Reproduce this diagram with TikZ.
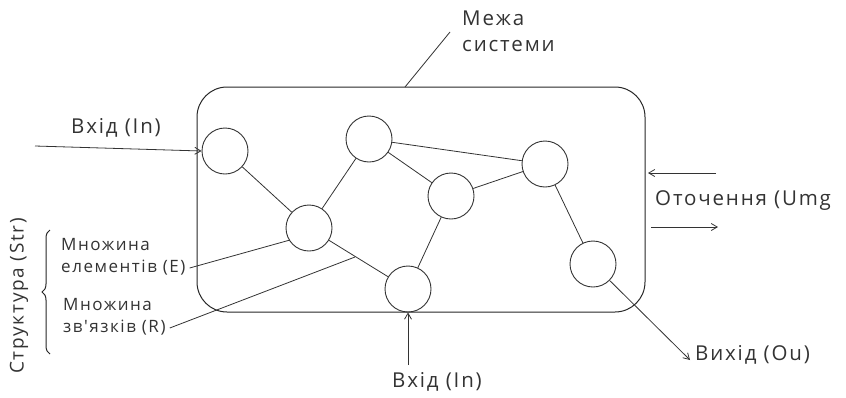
\documentclass[tikz,border=0pt]{standalone}
\usepackage{fontspec}
\setmainfont{Open Sans}
\newfontfamily\wideopen[LetterSpace=9]{Open Sans}
\usetikzlibrary{arrows.meta,decorations.pathreplacing}
\begin{document}
\begin{tikzpicture}[x=1pt,y=-1pt,
  elem/.style={draw=black!80,circle,minimum size=46pt,inner sep=0pt,line width=0.9pt},
  link/.style={draw=black!80,line width=0.8pt},
  arr/.style={draw=black!80,line width=0.8pt,-{Straight Barb[length=6pt,width=7pt]}},
  lbl/.style={font=\wideopen\fontsize{20.5}{23}\selectfont,text=black!80,inner sep=0pt},
  slbl/.style={font=\wideopen\fontsize{17}{22}\selectfont,text=black!80,inner sep=0pt,align=left}]
\useasboundingbox (0,0) rectangle (846,397);
% system boundary
\draw[line width=1pt,draw=black!85,rounded corners=30pt] (197,87) rectangle (645,312);
\coordinate (btop) at (405,87);
\coordinate (bmark) at (450,32);
\draw[link] (btop) -- (bmark);
\node[lbl,anchor=north west,align=left] (mezha) at (462,11) {Межа\\[3pt]системи};
% elements
\node[elem] (c1) at (225,151) {};
\node[elem] (c2) at (369,139) {};
\node[elem] (c3) at (545,164) {};
\node[elem] (c4) at (451,196) {};
\node[elem] (c5) at (309,228) {};
\node[elem] (c6) at (593,264) {};
\node[elem] (c7) at (408,289) {};
% links
\draw[link] (c1) -- (c5);
\draw[link] (c5) -- (c2);
\draw[link] (c2) -- (c3);
\draw[link] (c2) -- (c4);
\draw[link] (c4) -- (c3);
\draw[link] (c4) -- (c7);
\draw[link] (c5) -- (c7);
\draw[link] (c3) -- (c6);
% inputs / outputs
\coordinate (inL) at (35,146);
\draw[arr] (inL) -- (c1.west);
\node[lbl] (inLtxt) at (116,128) {Вхід (In)};
\coordinate (inB) at (408,365);
\draw[arr] (inB) -- (c7.south);
\node[lbl] (inBtxt) at (437,382) {Вхід (In)};
\coordinate (outE) at (690,360);
\draw[arr] (c6) -- (outE);
\node[lbl,anchor=west] (outtxt) at (695,355) {Вихід (Ou)};
% environment
\coordinate (envA1) at (716,173);
\coordinate (envA2) at (648,173);
\coordinate (envB1) at (651,227);
\coordinate (envB2) at (718,227);
\draw[arr] (envA1) -- (envA2);
\draw[arr] (envB1) -- (envB2);
\node[lbl,anchor=west] (envtxt) at (655,201) {Оточення (Umg};
% structure labels
\node[slbl,anchor=west] (eltxt) at (61,257) {Множина\\елементів (E)};
\node[slbl,anchor=west] (reltxt) at (63,317) {Множина\\зв'язків (R)};
\coordinate (elEnd) at (290,240);
\coordinate (relEnd) at (355,257);
\draw[link] (eltxt.east) ++(4,11) coordinate (elStart) -- (elEnd);
\draw[link] (reltxt.east) ++(4,11) coordinate (relStart) -- (relEnd);
\coordinate (brT) at (50,230);
\coordinate (brB) at (50,354);
\draw[line width=1pt,draw=black!85,decorate,decoration={brace,amplitude=8pt,mirror}] (brT) -- (brB);
\node[lbl,rotate=90,font=\wideopen\fontsize{19}{22}\selectfont] (strtxt) at (19,296) {Структура (Str)};
\end{tikzpicture}
\end{document}
